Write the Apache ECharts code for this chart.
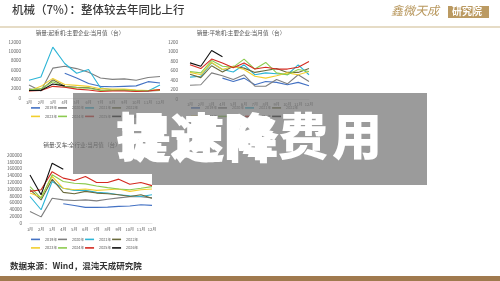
<!DOCTYPE html>
<html><head><meta charset="utf-8">
<script src="https://cdn.jsdelivr.net/npm/echarts@6/dist/echarts.min.js"></script>
<style>html,body{margin:0;padding:0;background:#fff}#c{width:500px;height:281px}</style>
</head><body><div id="c"></div><script>
// ---- data ----
const months = ['1月','2月','3月','4月','5月','6月','7月','8月','9月','10月','11月','12月'];
const years = ['2019年','2020年','2021年','2022年','2023年','2024年','2025年','2026年'];
const yearColors = ['#4472C4','#7F7F7F','#2CB5D6','#6B6B3E','#F2CF2E','#8DCB50','#D42A20','#111111'];

const craneTitle = '销量:起重机:主要企业:当月值（台）';
const crane2019 = [null,null,null,5300,4300,3100,2500,2400,2500,2600,3500,3200];
const crane2020 = [2800,1500,6400,6800,6300,5500,4300,4000,4100,3800,4400,4600];
const crane2021 = [3800,4500,10900,7400,5300,6100,2200,1700,1700,1500,1500,2800];
const crane2022 = [1900,1700,3900,2500,2300,2200,1700,1600,1700,1600,1500,1600];
const crane2023 = [1500,2500,4200,2900,2700,2500,2000,1900,1900,1700,1600,1800];
const crane2024 = [1700,2000,3500,2400,2200,2100,1600,1600,1700,1500,1600,1700];
const crane2025 = [1500,1600,2500,2300,1900,1700,1400,1500,1500,1400,1500,1800];
const crane2026 = [1600,1600,3000,2600];

const graderTitle = '销量:平地机:主要企业:当月值（台）';
const grader2019 = [null,null,null,440,370,440,300,370,350,300,350,280];
const grader2020 = [290,300,550,490,410,510,270,270,410,320,510,370];
const grader2021 = [460,480,760,620,570,720,510,550,530,510,720,510];
const grader2022 = [520,450,700,570,690,650,560,600,640,560,560,640];
const grader2023 = [560,510,770,620,690,620,480,440,490,550,510,580];
const grader2024 = [580,550,810,690,670,840,630,770,550,510,620,580];
const grader2025 = [720,640,840,760,660,760,630,670,630,630,670,790];
const grader2026 = [760,690,1020,890];

const forkTitle = '销量:叉车:全行业:当月值（台）';
const fork2019 = [null,null,null,56600,51700,45900,45900,46800,48800,50000,53700,51700];
const fork2020 = [34000,18000,73000,68000,66000,68000,65000,70000,74000,77000,77000,74000];
const fork2021 = [78000,39000,122000,102000,96000,96000,90000,88000,83000,80000,78000,83000];
const fork2022 = [98000,68000,129000,90000,86000,93000,88000,86000,83000,78000,83000,73000];
const fork2023 = [88000,76000,137000,102000,98000,100000,96000,98000,100000,93000,98000,100000];
const fork2024 = [107000,73000,142000,122000,117000,115000,109000,104000,100000,98000,102000,107000];
const fork2025 = [93000,98000,151000,132000,125000,137000,119000,119000,129000,114000,119000,110000];
const fork2026 = [141000,83000,176000,158000];

const craneSeries = [crane2019,crane2020,crane2021,crane2022,crane2023,crane2024,crane2025,crane2026];
const graderSeries = [grader2019,grader2020,grader2021,grader2022,grader2023,grader2024,grader2025,grader2026];
const forkSeries = [fork2019,fork2020,fork2021,fork2022,fork2023,fork2024,fork2025,fork2026];

const mainTitle = '机械（7%）：整体较去年同比上行';
const sourceText = '数据来源：Wind，混沌天成研究院';
const logoText = '鑫微天成';
const logoBox = '研究院';
const overlayText = ['提','速','降','费','用'];

// ---- chart ----
const FONT = '"Noto Sans CJK SC", "Noto Sans", sans-serif';
const chart = echarts.init(document.getElementById('c'), null, {renderer:'canvas'});

const grids = [
  {left:29, top:42, width:131, height:56},
  {left:190, top:42, width:119, height:57},
  {left:30, top:155, width:122, height:68}
];
const yCfg = [
  {max:12000, interval:2000, margin:8},
  {max:1200, interval:200, margin:12},
  {max:200000, interval:20000, margin:8}
];
const xMargin = [2, 3, 4];

const xAxis = grids.map((g,i)=>({
  gridIndex:i, type:'category', data:months, boundaryGap:false,
  axisLine:{show:true, lineStyle:{color:'#d9d9d9', width:0.6}},
  axisTick:{show:false},
  axisLabel:{fontSize:4, color:'#595959', margin:xMargin[i], interval:0, fontFamily:FONT}
}));
const yAxis = grids.map((g,i)=>({
  gridIndex:i, type:'value', min:0, max:yCfg[i].max, interval:yCfg[i].interval,
  axisLine:{show:false}, axisTick:{show:false}, splitLine:{show:false},
  axisLabel:{fontSize:4.5, color:'#595959', margin:yCfg[i].margin, fontFamily:FONT, formatter:(v)=>String(v)}
}));

const series = [];
[craneSeries, graderSeries, forkSeries].forEach((set, gi)=>{
  set.forEach((d, yi)=>{
    series.push({
      type:'line', name:years[yi], xAxisIndex:gi, yAxisIndex:gi, data:d,
      showSymbol:false, symbol:'none', connectNulls:false,
      lineStyle:{width:1.1, color:yearColors[yi]}, itemStyle:{color:yearColors[yi]},
      z: 2 + yi, animation:false
    });
  });
});

function legendRow(left, top, names){
  return {
    left:left, top:top, data:names, orient:'horizontal',
    itemWidth:9, itemHeight:1.6, itemGap:0.8, icon:'rect', padding:0,
    textStyle:{fontSize:3.8, color:'#595959', fontFamily:FONT}, selectedMode:false
  };
}
const legend = [
  legendRow(31, 106, years.slice(0,4)), legendRow(31, 114.5, years.slice(4)),
  legendRow(191, 106, years.slice(0,4)), legendRow(191, 114.5, years.slice(4)),
  legendRow(31, 237.5, years.slice(0,4)), legendRow(31, 246, years.slice(4))
];

const graphic = [
  {type:'text', left:12, top:4, z:10, style:{text:mainTitle, font:'500 11.5px '+FONT, fill:'#3a3a3a'}},
  {type:'text', left:391, top:4, z:10, style:{text:logoText, font:'italic 12px '+FONT, fill:'#B8975C'}},
  {type:'rect', left:448, top:6, z:10, shape:{width:41, height:12}, style:{fill:'#BB9A62'}},
  {type:'text', left:452, top:6.5, z:11, style:{text:logoBox, font:'bold 10px '+FONT, fill:'#ffffff'}},
  {type:'rect', left:0, top:26.5, z:10, shape:{width:500, height:1}, style:{fill:'#CDB98E'}},
  {type:'text', x:80, y:33, z:10, style:{text:craneTitle, font:'5.6px '+FONT, fill:'#555', align:'center', verticalAlign:'middle'}},
  {type:'text', x:241, y:32.5, z:10, style:{text:graderTitle, font:'5.6px '+FONT, fill:'#555', align:'center', verticalAlign:'middle'}},
  {type:'text', x:82, y:145, z:10, style:{text:forkTitle, font:'5.6px '+FONT, fill:'#555', align:'center', verticalAlign:'middle'}},
  {type:'text', left:10, top:262, z:10, style:{text:sourceText, font:'bold 8.5px '+FONT, fill:'#333'}},
  {type:'rect', left:0, top:276, z:10, shape:{width:500, height:5}, style:{fill:'#A07A4E'}},
  {type:'polygon', z:50, shape:{points:[[73,93],[427,93],[427,185],[152,185],[152,174],[73,174]]}, style:{fill:'rgba(117,117,117,0.72)'}}
];
const centers = [141,195,249,303,357];
overlayText.forEach((ch,i)=>{
  graphic.push({type:'text', x:centers[i], y:136, z:60, style:{text:ch, font:'900 50px '+FONT, fill:'#ffffff', align:'center', verticalAlign:'middle'}});
  if(i<3){
    graphic.push({type:'text', x:centers[i]+5, y:139, z:60, style:{text:ch, font:'900 50px '+FONT, fill:'#ffffff', align:'center', verticalAlign:'middle'}});
  }
});

chart.setOption({
  animation:false,
  backgroundColor:'#ffffff',
  textStyle:{fontFamily:FONT},
  grid:grids, xAxis:xAxis, yAxis:yAxis, series:series, legend:legend, graphic:graphic
});
</script></body></html>
